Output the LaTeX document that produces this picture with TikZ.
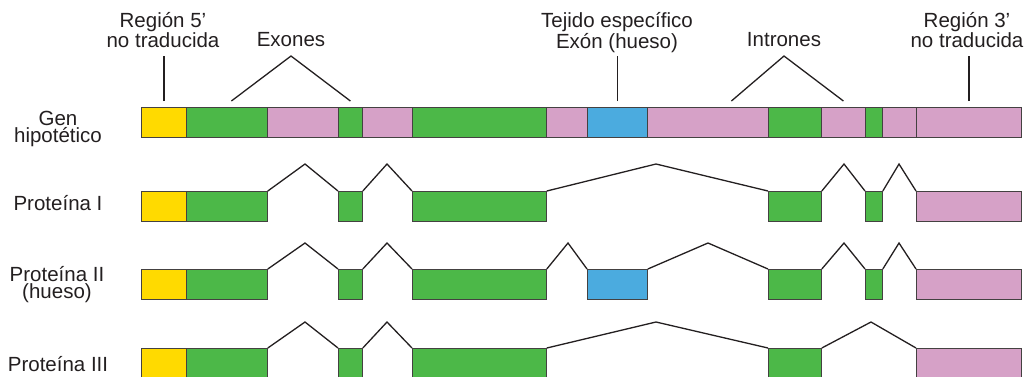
\documentclass[tikz,border=0pt]{standalone}
\usepackage{fontspec}
\setmainfont{Liberation Sans}

\definecolor{utr}{HTML}{FFDA00}
\definecolor{exon}{HTML}{4CB848}
\definecolor{intron}{HTML}{D6A1C7}
\definecolor{bone}{HTML}{4BABDF}
\definecolor{ink}{HTML}{231F20}

\tikzset{
  box/.style={draw=ink!85, line width=0.8pt, inner sep=0pt, minimum height=29.5pt, anchor=north west},
  lbl/.style={font=\fontsize{20.5}{17}\selectfont, align=center, inner sep=0pt, text=ink},
  splice/.style={draw=ink, line width=1.3pt, line join=miter},
}

\begin{document}
\begin{tikzpicture}[x=1pt,y=-1pt]
  \useasboundingbox (0,0) rectangle (1033,376);

  % labels on the left
  \node[lbl] (lgen) at (58,129) {Gen\\hipotético};
  \node[lbl] (lp1) at (58,203) {Proteína I};
  \node[lbl] (lp2) at (57,285) {Proteína II\\(hueso)};
  \node[lbl] (lp3) at (58,364) {Proteína III};

  % hypothetical gene
  \node[box,fill=utr,minimum width=45pt] (g0) at (141,107) {};
  \node[box,fill=exon,minimum width=81pt] (ge1) at (186,107) {};
  \node[box,fill=intron,minimum width=71pt] (gi1) at (267,107) {};
  \node[box,fill=exon,minimum width=24pt] (ge2) at (338,107) {};
  \node[box,fill=intron,minimum width=50pt] (gi2) at (362,107) {};
  \node[box,fill=exon,minimum width=134pt] (ge3) at (412,107) {};
  \node[box,fill=intron,minimum width=41pt] (gi3) at (546,107) {};
  \node[box,fill=bone,minimum width=60pt] (gb) at (587,107) {};
  \node[box,fill=intron,minimum width=121pt] (gi4) at (647,107) {};
  \node[box,fill=exon,minimum width=53pt] (ge4) at (768,107) {};
  \node[box,fill=intron,minimum width=44pt] (gi5) at (821,107) {};
  \node[box,fill=exon,minimum width=17pt] (ge5) at (865,107) {};
  \node[box,fill=intron,minimum width=34pt] (gi6) at (882,107) {};
  \node[box,fill=intron,minimum width=105pt] (g3) at (916,107) {};

  % labels on top
  \node[lbl] (r5) at (163,30) {Región 5’\\no traducida};
  \node[lbl] (exones) at (291,40) {Exones};
  \node[lbl] (tejido) at (617,32.5) {Tejido específico\\Exón (hueso)};
  \node[lbl] (intrones) at (784,40) {Intrones};
  \node[lbl] (r3) at (967,30) {Región 3’\\no traducida};

  \coordinate (exA) at (291,56);
  \coordinate (inA) at (784,56);
  \draw[splice] ([yshift=6pt]g0.north) -- ([yshift=51pt]g0.north);
  \draw[splice] ([xshift=4.5pt,yshift=6pt]ge1.north) -- (exA) -- ([yshift=6pt]ge2.north);
  \draw[splice] ([yshift=6pt]gb.north) -- ([yshift=51pt]gb.north);
  \draw[splice] ([xshift=23.5pt,yshift=6pt]gi4.north) -- (inA) -- ([yshift=6pt]gi5.north);
  \draw[splice] ([yshift=6pt]g3.north) -- ([yshift=51pt]g3.north);

  % protein I
  \node[box,fill=utr,minimum width=45pt] (a0) at (141,191) {};
  \node[box,fill=exon,minimum width=81pt] (a1) at (186,191) {};
  \node[box,fill=exon,minimum width=24pt] (a2) at (338,191) {};
  \node[box,fill=exon,minimum width=134pt] (a3) at (412,191) {};
  \node[box,fill=exon,minimum width=53pt] (a4) at (768,191) {};
  \node[box,fill=exon,minimum width=17pt] (a5) at (865,191) {};
  \node[box,fill=intron,minimum width=105pt] (a6) at (916,191) {};
  \draw[splice] (a1.north east) -- (305,164) -- (a2.north west);
  \draw[splice] (a2.north east) -- (387,164) -- (a3.north west);
  \draw[splice] (a3.north east) -- (656,164) -- (a4.north west);
  \draw[splice] (a4.north east) -- (844,164) -- (a5.north west);
  \draw[splice] (a5.north east) -- (899,164) -- (a6.north west);

  % protein II (bone)
  \node[box,fill=utr,minimum width=45pt] (b0) at (141,269) {};
  \node[box,fill=exon,minimum width=81pt] (b1) at (186,269) {};
  \node[box,fill=exon,minimum width=24pt] (b2) at (338,269) {};
  \node[box,fill=exon,minimum width=134pt] (b3) at (412,269) {};
  \node[box,fill=bone,minimum width=60pt] (bb) at (587,269) {};
  \node[box,fill=exon,minimum width=53pt] (b4) at (768,269) {};
  \node[box,fill=exon,minimum width=17pt] (b5) at (865,269) {};
  \node[box,fill=intron,minimum width=105pt] (b6) at (916,269) {};
  \draw[splice] (b1.north east) -- (305,243) -- (b2.north west);
  \draw[splice] (b2.north east) -- (387,243) -- (b3.north west);
  \draw[splice] (b3.north east) -- (568,243) -- (bb.north west);
  \draw[splice] (bb.north east) -- (708,243) -- (b4.north west);
  \draw[splice] (b4.north east) -- (844,243) -- (b5.north west);
  \draw[splice] (b5.north east) -- (899,243) -- (b6.north west);

  % protein III
  \node[box,fill=utr,minimum width=45pt] (c0) at (141,348) {};
  \node[box,fill=exon,minimum width=81pt] (c1) at (186,348) {};
  \node[box,fill=exon,minimum width=24pt] (c2) at (338,348) {};
  \node[box,fill=exon,minimum width=134pt] (c3) at (412,348) {};
  \node[box,fill=exon,minimum width=53pt] (c4) at (768,348) {};
  \node[box,fill=intron,minimum width=105pt] (c6) at (916,348) {};
  \draw[splice] (c1.north east) -- (305,322) -- (c2.north west);
  \draw[splice] (c2.north east) -- (387,322) -- (c3.north west);
  \draw[splice] (c3.north east) -- (656,322) -- (c4.north west);
  \draw[splice] (c4.north east) -- (871,322) -- (c6.north west);
\end{tikzpicture}
\end{document}
